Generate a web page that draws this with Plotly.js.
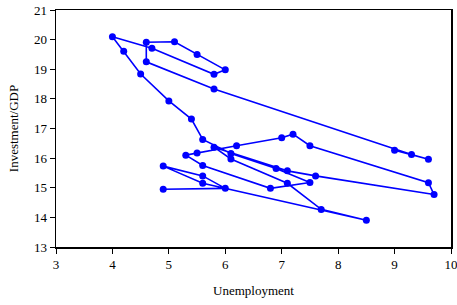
<!DOCTYPE html>
<html>
<head>
<meta charset="utf-8">
<script src="https://cdn.plot.ly/plotly-3.0.1.min.js"></script>
<style>html,body{margin:0;padding:0;background:#fff;}#chart{width:457px;height:305px;}</style>
</head>
<body>
<div id="chart"></div>
<script>
// US, 1970-2011
const years = [1970,1971,1972,1973,1974,1975,1976,1977,1978,1979,1980,1981,1982,1983,1984,1985,1986,1987,1988,1989,1990,1991,1992,1993,1994,1995,1996,1997,1998,1999,2000,2001,2002,2003,2004,2005,2006,2007,2008,2009,2010,2011];
const unemployment = [4.9,6.0,5.6,4.9,5.6,8.5,7.7,7.1,6.1,5.8,7.1,7.6,9.7,9.6,7.5,7.2,7.0,6.2,5.5,5.3,5.6,6.8,7.5,6.9,6.1,5.6,5.4,5.0,4.5,4.2,4.0,4.7,5.8,6.0,5.5,5.1,4.6,4.6,5.8,9.3,9.6,9.0];
const investmentGDP = [14.95,14.98,15.40,15.73,15.15,13.90,14.27,15.15,15.97,16.37,15.57,15.40,14.77,15.17,16.42,16.81,16.69,16.42,16.17,16.10,15.75,14.98,15.18,15.65,16.16,16.63,17.32,17.93,18.84,19.61,20.10,19.71,18.83,18.98,19.50,19.93,19.91,19.25,18.33,16.12,15.96,16.27];
const xTicks = [3,4,5,6,7,8,9,10];
const yTicks = [13,14,15,16,17,18,19,20,21];

const trace = {
  x: unemployment, y: investmentGDP, text: years,
  type: 'scatter', mode: 'lines+markers',
  line: {color: '#0000FF', width: 1.6},
  marker: {color: '#0000FF', size: 7},
  hoverinfo: 'x+y+text', cliponaxis: false
};
const font = {family: '"Liberation Serif", "Times New Roman", serif', size: 13, color: '#000'};
const layout = {
  width: 457, height: 305,
  margin: {l: 56, r: 6, t: 10, b: 58},
  paper_bgcolor: '#fff', plot_bgcolor: '#fff',
  font: font,
  showlegend: false,
  xaxis: {
    range: [3, 10], tickvals: xTicks, ticktext: xTicks.map(String),
    showgrid: false, zeroline: false, showline: true, mirror: true,
    linecolor: '#000', linewidth: 1.5, ticks: 'outside', ticklen: 5, tickcolor: '#000',
    ticklabeloverflow: 'allow',
    title: {text: 'Unemployment', font: font, standoff: 15}
  },
  yaxis: {
    range: [13, 21], tickvals: yTicks, ticktext: yTicks.map(String),
    showgrid: false, zeroline: false, showline: true, mirror: true,
    linecolor: '#000', linewidth: 1.5, ticks: 'outside', ticklen: 5, tickcolor: '#000',
    ticklabeloverflow: 'allow',
    title: {text: 'Investment/GDP', font: font, standoff: 12}
  }
};
Plotly.newPlot('chart', [trace], layout, {displayModeBar: false, staticPlot: true});
</script>
</body>
</html>
